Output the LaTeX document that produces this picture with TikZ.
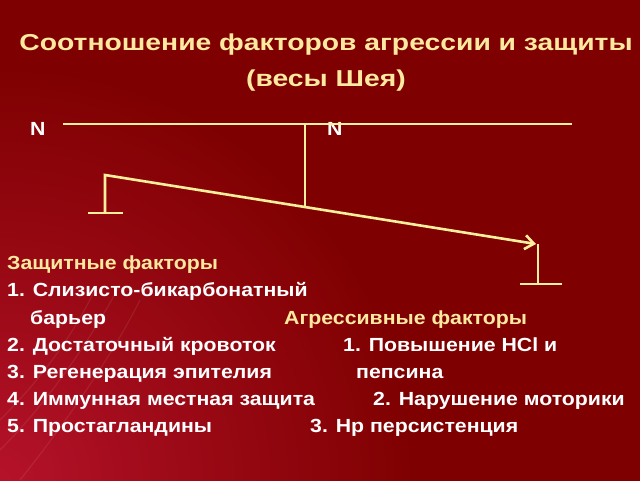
\documentclass[tikz,border=0pt]{standalone}
\usepackage{fontspec}
\setmainfont{Liberation Sans}
\newfontfamily\bodyfont[FakeStretch=1.12]{Liberation Sans}
\newfontfamily\titlefont[FakeStretch=1.23]{Liberation Sans}
\usetikzlibrary{arrows.meta}
\definecolor{bgtop}{HTML}{7E0000}
\definecolor{bgglow}{HTML}{B5122A}
\definecolor{ttl}{HTML}{FFE9A0}
\definecolor{ln}{HTML}{FFEE9C}
\pgfdeclareradialshading{bgglowshade}{\pgfpoint{0bp}{0bp}}{color(0bp)=(bgglow); color(180bp)=(bgglow!55!bgtop); color(420bp)=(bgtop); color(1000bp)=(bgtop)}
\tikzset{
  txt/.style={anchor=base west, inner sep=0pt, text=white, font=\bodyfont\bfseries\fontsize{19}{22}\selectfont},
  head/.style={txt, text=ttl},
  ttlstyle/.style={anchor=base, inner sep=0pt, text=ttl, font=\titlefont\bfseries\fontsize{23}{27}\selectfont},
  beam/.style={draw=ln, line width=2.6pt},
  swoosh/.style={draw=white, line width=1.2pt, opacity=0.08},
}
\begin{document}
\begin{tikzpicture}[x=1pt,y=-1pt]
\useasboundingbox (0,0) rectangle (640,480);
\fill[bgtop] (0,0) rectangle (640,480);
\begin{scope}
\clip (0,0) rectangle (640,480);
\node[inner sep=0pt] (glow) at (0,480) {\pgfuseshading{bgglowshade}};
\draw[swoosh] (120,285) .. controls (90,340) and (50,400) .. (0,450);
\draw[swoosh] (95,290) .. controls (70,340) and (40,380) .. (0,420);
\draw[swoosh] (140,300) .. controls (110,360) and (60,430) .. (20,480);
\end{scope}
\node[ttlstyle] (title) at (326,50) {Соотношение факторов агрессии и защиты};
\node[ttlstyle] (title2) at (326,86) {(весы Шея)};
\node[txt] (n1) at (30,135) {N};
\node[txt] (n2) at (327,135) {N};
\coordinate (hl) at (63,124);
\coordinate (hr) at (572,124);
\coordinate (pivtop) at (305,124);
\coordinate (pivbot) at (305,206);
\coordinate (bl) at (105,175);
\coordinate (br) at (536,244);
\coordinate (lfoot) at (105,213);
\coordinate (lfl) at (88,213);
\coordinate (lfr) at (123,213);
\coordinate (rtop) at (538,244);
\coordinate (rfoot) at (538,284);
\coordinate (rfl) at (520,284);
\coordinate (rfr) at (562,284);
\draw[beam] (hl) -- (hr);
\draw[beam] (pivtop) -- (pivbot);
\draw[beam, -{Straight Barb[length=9pt,width=14pt,line width=2.6pt]}] (lfoot) -- (bl) -- (br);
\draw[beam] (lfl) -- (lfr);
\draw[beam] (rtop) -- (rfoot);
\draw[beam] (rfl) -- (rfr);
\node[head] (h1) at (7,269) {Защитные факторы};
\node[txt] (a1) at (7,296) {1. Слизисто-бикарбонатный};
\node[txt] (a1b) at (30,324) {барьер};
\node[head] (h2) at (284,324) {Агрессивные факторы};
\node[txt] (a2) at (7,351) {2. Достаточный кровоток};
\node[txt] (b1) at (343,351) {1. Повышение HCl и};
\node[txt] (a3) at (7,378) {3. Регенерация эпителия};
\node[txt] (b1b) at (356,378) {пепсина};
\node[txt] (a4) at (7,405) {4. Иммунная местная защита};
\node[txt] (b2) at (373,405) {2. Нарушение моторики};
\node[txt] (a5) at (7,432) {5. Простагландины};
\node[txt] (b3) at (310,432) {3. Hp персистенция};
\end{tikzpicture}
\end{document}
